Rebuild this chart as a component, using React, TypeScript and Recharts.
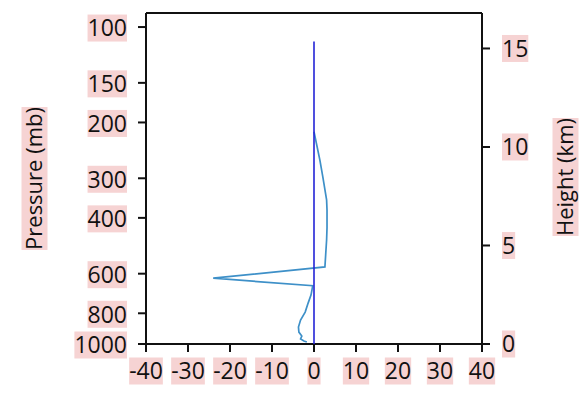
import { ScatterChart, Scatter, XAxis, YAxis } from 'recharts';

const FONT_FAMILY = '"Open Sans", "Noto Sans", sans-serif';
const TICK_FONT = 23;
const TITLE_FONT = 22;
const LABEL_BG = '#f6d3d3';
const AXIS_COLOR = '#111';

// tick values
const windTicks = [-40, -30, -20, -10, 0, 10, 20, 30, 40];
const pressureTicks = [100, 150, 200, 300, 400, 600, 800, 1000];
const heightTicks = [0, 5, 10, 15];

// reference column at zero
const baseWind = [0, 0];
const basePressure = [1000, 111];

// sounding profile, top to bottom
const profileWind = [
  0, 1.4, 2.1, 3.0, 3.1, 3.1, 3.0, 2.6, -24, -0.3, -0.7, -1.4, -2.1, -3.2, -3.7, -3.6, -2.9, -3.2, -2.4, -1.7,
];
const profilePressure = [
  214, 263, 297, 351, 378, 430, 470, 571, 620, 655, 700, 743, 793, 840, 884, 917, 944, 964, 979, 986,
];

const baseData = baseWind.map((u, i) => ({ u, p: basePressure[i] }));
const profileData = profileWind.map((u, i) => ({ u, p: profilePressure[i] }));

let ctx: CanvasRenderingContext2D | null = null;
function textWidth(s: string, size: number): number {
  if (!ctx) ctx = document.createElement('canvas').getContext('2d');
  if (!ctx) return s.length * size * 0.57;
  ctx.font = `${size}px ${FONT_FAMILY}`;
  return ctx.measureText(s).width;
}

// label with a pink box behind it; (cx, cy) is the box centre
function BoxedText({
  cx,
  cy,
  label,
  size = TICK_FONT,
  rotate = false,
}: {
  cx: number;
  cy: number;
  label: string;
  size?: number;
  rotate?: boolean;
}) {
  const w = textWidth(label, size);
  const h = size + 4;
  return (
    <g transform={rotate ? `rotate(-90 ${cx} ${cy})` : undefined}>
      <rect x={cx - w / 2} y={cy - h / 2} width={w} height={h} fill={LABEL_BG} />
      <text x={cx} y={cy + size * 0.36} textAnchor="middle" fontFamily={FONT_FAMILY} fontSize={size} fill="#111">
        {label}
      </text>
    </g>
  );
}

function BottomTick(props: any) {
  const { x, y, payload } = props;
  return <BoxedText cx={x} cy={y + 19} label={String(payload.value)} />;
}

function LeftTick(props: any) {
  const { x, y, payload } = props;
  const label = String(payload.value);
  const w = textWidth(label, TICK_FONT);
  return <BoxedText cx={x - 11 - w / 2} cy={y + 1} label={label} />;
}

function RightTick(props: any) {
  const { x, y, payload } = props;
  const label = String(payload.value);
  const w = textWidth(label, TICK_FONT);
  return <BoxedText cx={x + 12 + w / 2} cy={y} label={label} />;
}

const axisLine = { stroke: AXIS_COLOR, strokeWidth: 2 };
const tickLine = { stroke: AXIS_COLOR, strokeWidth: 2 };

export default function App() {
  return (
    <div style={{ position: 'absolute', left: 0, top: 0, width: 587, height: 395, background: '#fff' }}>
      <ScatterChart width={587} height={395} margin={{ top: 0, right: 45, bottom: 11, left: 86 }}>
        <XAxis
          xAxisId="bottom"
          type="number"
          dataKey="u"
          domain={[-40, 40]}
          ticks={windTicks}
          tick={<BottomTick />}
          tickSize={8}
          tickMargin={0}
          height={40}
          axisLine={axisLine}
          tickLine={tickLine}
          allowDataOverflow
        />
        <XAxis
          xAxisId="top"
          orientation="top"
          type="number"
          domain={[-40, 40]}
          ticks={windTicks}
          tickFormatter={() => ''}
          tickSize={8}
          height={13}
          axisLine={axisLine}
          tickLine={tickLine}
          allowDataOverflow
        />
        <YAxis
          yAxisId="p"
          type="number"
          dataKey="p"
          scale="log"
          domain={[90.3, 1000]}
          reversed
          ticks={pressureTicks}
          tick={<LeftTick />}
          tickSize={8}
          tickMargin={0}
          width={60}
          axisLine={axisLine}
          tickLine={tickLine}
          allowDataOverflow
        />
        <YAxis
          yAxisId="h"
          orientation="right"
          type="number"
          domain={[0, 16.8]}
          ticks={heightTicks}
          tick={<RightTick />}
          tickSize={8}
          tickMargin={0}
          width={60}
          axisLine={axisLine}
          tickLine={tickLine}
          allowDataOverflow
        />
        <Scatter
          xAxisId="bottom"
          yAxisId="p"
          data={profileData}
          line={{ stroke: '#3e90c8', strokeWidth: 1.7 }}
          lineType="joint"
          shape={() => <g />}
          isAnimationActive={false}
        />
        <Scatter
          xAxisId="bottom"
          yAxisId="p"
          data={baseData}
          line={{ stroke: '#2424d6', strokeWidth: 1.6 }}
          lineType="joint"
          shape={() => <g />}
          isAnimationActive={false}
        />
        <Scatter xAxisId="top" yAxisId="h" data={[]} shape={() => <g />} isAnimationActive={false} />
      </ScatterChart>
      <svg width={587} height={395} style={{ position: 'absolute', left: 0, top: 0, pointerEvents: 'none' }}>
        <BoxedText cx={34.5} cy={178.5} label="Pressure (mb)" size={TITLE_FONT} rotate />
        <BoxedText cx={565.5} cy={177} label="Height (km)" size={TITLE_FONT} rotate />
      </svg>
    </div>
  );
}
